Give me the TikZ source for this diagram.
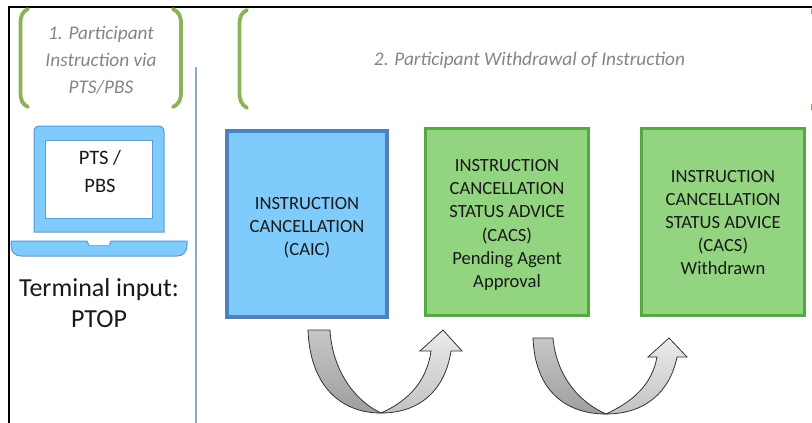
\documentclass[tikz,border=0pt]{standalone}
\usepackage{fontspec}
\setmainfont{Carlito}
\definecolor{brk}{HTML}{8DB255}
\definecolor{grytx}{HTML}{858585}
\definecolor{blfill}{HTML}{7FCBFB}
\definecolor{bledge}{HTML}{4F81BD}
\definecolor{lapedge}{HTML}{5B9BD5}
\definecolor{grfill}{HTML}{92D480}
\definecolor{gredge}{HTML}{57A843}
\definecolor{vline}{HTML}{8FAAC4}
\tikzset{
 brack/.style={draw=brk,line width=3.8pt,line cap=round},
 head/.style={font=\fontsize{19.3}{27}\selectfont\itshape,text=grytx,align=center},
 bluebox/.style={draw=bledge,fill=blfill,line width=3.6pt,minimum width=160pt,minimum height=186pt},
 greenbox/.style={draw=gredge,fill=grfill,line width=3.6pt,minimum width=163pt,minimum height=187pt},
 boxtext/.style={font=\fontsize{18.6}{23.2}\selectfont,text=black!90,align=center},
 bigtext/.style={font=\fontsize{26}{31}\selectfont,text=black!90,align=center},
 arrowshape/.style={draw=black!80,line width=0.8pt,line join=miter},
}
\begin{document}
\begin{tikzpicture}[x=1pt,y=-1pt]
\useasboundingbox (0,0) rectangle (812,423);
\fill[white] (0,0) rectangle (812,423);
% frame
\draw[black,line width=2pt] (9,423) -- (9,6.5) -- (812,6.5);
\draw[vline,line width=1.2pt] (196,67) -- (196,423);
% brackets
\draw[brack] (28,9) .. controls (22,12) and (20.5,16) .. (20.5,24) -- (20.5,92) .. controls (20.5,100) and (22,104) .. (28,107);
\draw[brack] (173,9) .. controls (179,12) and (181,16) .. (181,24) -- (181,92) .. controls (181,100) and (179,104) .. (173,107);
\draw[brack] (247,10) .. controls (241,13) and (239.5,17) .. (239.5,25) -- (239.5,92) .. controls (239.5,100) and (241,104) .. (247,108);
\fill[brk] (810.5,9) rectangle (812,14);
\fill[brk] (810.5,104) rectangle (812,110);
\node[head] (h1) at (101,60) {1. Participant\\Instruction via\\PTS/PBS};
\node[head] (h2) at (529.5,60) {2. Participant Withdrawal of Instruction};
% laptop
\draw[draw=lapedge,fill=blfill,line width=1pt] (34,232) -- (34,132) .. controls (34,128) and (36,126) .. (40,126) -- (158,126) .. controls (162,126) and (164,128) .. (164,132) -- (164,232) -- cycle;
\node[draw=lapedge,fill=white,line width=1pt,minimum width=107pt,minimum height=78pt,inner sep=0pt] (screen) at (99,179) {};
\draw[draw=lapedge,fill=blfill,line width=1pt] (11,241) -- (87,241) -- (89,245) -- (109,245) -- (111,241) -- (187,241) -- (187,245) .. controls (187,252) and (183,256) .. (177,256) -- (21,256) .. controls (15,256) and (11,252) .. (11,245) -- cycle;
\fill[white] (88,241) -- (110,241) -- (108.5,245) -- (89.5,245) -- cycle;
\node[font=\fontsize{20.5}{28}\selectfont,text=black!90,align=center] (pts) at (100,171) {PTS /\\PBS};
\node[bigtext] (term) at (99,303) {Terminal input:\\PTOP};
% boxes
\node[bluebox] (caic) at (307,224) {};
\node[boxtext] (caictext) at (307,227.5) {INSTRUCTION\\CANCELLATION\\(CAIC)};
\node[greenbox] (cacsa) at (507,222) {};
\node[boxtext] (cacsatext) at (507,225) {INSTRUCTION\\CANCELLATION\\STATUS ADVICE\\(CACS)\\Pending Agent\\Approval};
\node[greenbox] (cacsb) at (723,222) {};
\node[boxtext] (cacsbtext) at (723,222.5) {INSTRUCTION\\CANCELLATION\\STATUS ADVICE\\(CACS)\\Withdrawn};
% curved arrows
\shade[arrowshape,top color=black!22,bottom color=black!38] (308,330) -- (330,330) .. controls (332,365) and (350,398) .. (381,413) .. controls (340,413) and (310,385) .. (308,330) -- cycle;
\shade[arrowshape,top color=black!8,bottom color=black!24] (381,413) .. controls (410,400) and (427,380) .. (431,351) -- (420,351) -- (443,330) -- (462,351) -- (451,351) .. controls (445,390) and (420,413) .. (381,413) -- cycle;
\shade[arrowshape,top color=black!22,bottom color=black!38] (533,338) -- (553,338) .. controls (556,372) and (575,400) .. (606,414) .. controls (565,414) and (535,390) .. (533,338) -- cycle;
\shade[arrowshape,top color=black!8,bottom color=black!24] (606,414) .. controls (632,402) and (652,385) .. (657,357) -- (648,357) -- (669,338) -- (687,357) -- (677,357) .. controls (670,392) and (645,414) .. (606,414) -- cycle;
\end{tikzpicture}
\end{document}
